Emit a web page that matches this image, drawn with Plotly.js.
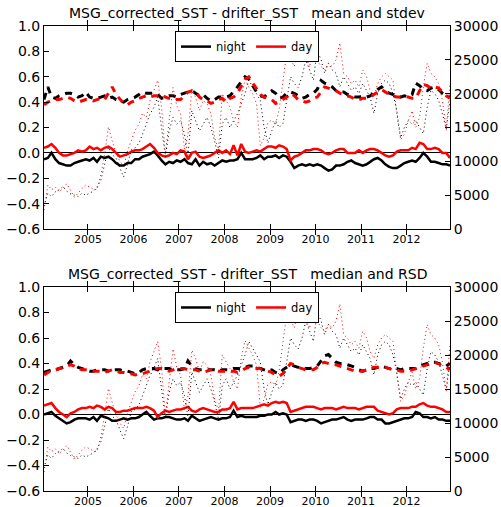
<!DOCTYPE html>
<html>
<head>
<meta charset="utf-8">
<script src="https://cdn.plot.ly/plotly-3.0.1.min.js"></script>
<style>html,body{margin:0;padding:0;background:#fff;}#chart{width:501px;height:507px;}</style>
</head>
<body>
<div id="chart"></div>
<script>
// ---- data (monthly, Jan 2004 .. Dec 2012) ----
var startYear = 2004;
var nMonths = 108;
var yearTicks = ['2005','2006','2007','2008','2009','2010','2011','2012'];

// top panel: mean and stdev
var nightMean = [
 -0.05,-0.04,0.0,-0.05,-0.08,-0.09,-0.10,-0.10,-0.08,-0.07,-0.06,-0.05,
 -0.06,-0.04,-0.07,-0.03,-0.04,-0.03,-0.05,-0.08,-0.10,-0.10,-0.08,-0.08,
 -0.05,-0.05,-0.03,-0.02,-0.01,0.01,-0.02,-0.06,-0.09,-0.07,-0.08,-0.06,
 -0.07,-0.05,-0.08,-0.09,-0.05,-0.10,-0.07,-0.09,-0.08,-0.10,-0.08,-0.06,
 -0.07,-0.06,-0.06,-0.05,0.0,-0.05,-0.05,-0.05,-0.04,-0.02,-0.05,-0.03,
 -0.03,-0.02,-0.04,-0.02,-0.03,-0.07,-0.12,-0.10,-0.09,-0.10,-0.09,-0.10,
 -0.09,-0.10,-0.12,-0.14,-0.13,-0.10,-0.10,-0.09,-0.07,-0.06,-0.08,-0.09,
 -0.10,-0.09,-0.07,-0.05,-0.04,-0.06,-0.09,-0.11,-0.12,-0.12,-0.10,-0.08,
 -0.07,-0.06,-0.07,-0.04,0.0,-0.03,-0.07,-0.07,-0.08,-0.09,-0.09,-0.10];
var dayMean = [
 0.04,0.05,0.07,0.04,0.0,-0.02,-0.02,-0.01,0.0,0.02,0.01,0.02,
 0.05,0.03,0.04,0.02,0.04,0.05,0.03,0.0,-0.03,-0.02,-0.01,0.01,
 0.02,0.02,0.03,0.05,0.07,0.04,0.0,-0.02,-0.03,-0.02,0.0,-0.01,
 0.02,0.01,-0.05,0.0,0.01,-0.03,-0.04,-0.03,-0.02,0.0,0.02,0.0,
 0.02,-0.01,0.06,-0.02,0.07,0.01,0.0,0.01,0.02,0.01,0.03,0.05,
 0.05,0.04,0.06,0.05,0.03,-0.06,-0.03,-0.02,0.0,0.02,0.02,0.03,
 0.03,0.02,0.0,-0.01,0.0,0.02,0.03,0.03,0.0,0.0,0.0,0.02,
 0.0,0.02,0.03,0.03,0.02,0.0,-0.02,-0.03,-0.02,0.01,0.02,0.02,
 0.02,0.04,0.03,0.08,0.07,0.03,0.03,0.04,0.03,0.0,0.0,-0.04];
var nightStd = [
 0.42,0.52,0.44,0.43,0.45,0.46,0.47,0.47,0.46,0.44,0.45,0.48,
 0.44,0.43,0.43,0.44,0.45,0.43,0.44,0.42,0.41,0.40,0.42,0.43,
 0.44,0.46,0.48,0.47,0.47,0.47,0.46,0.43,0.44,0.45,0.45,0.44,
 0.46,0.47,0.48,0.49,0.47,0.45,0.46,0.43,0.41,0.42,0.44,0.44,
 0.44,0.45,0.48,0.52,0.56,0.60,0.58,0.53,0.48,0.45,0.44,0.47,
 0.49,0.47,0.43,0.44,0.47,0.48,0.47,0.45,0.43,0.44,0.46,0.47,
 0.50,0.57,0.55,0.54,0.52,0.49,0.48,0.48,0.46,0.45,0.44,0.44,
 0.45,0.44,0.45,0.47,0.50,0.52,0.49,0.47,0.46,0.45,0.44,0.45,
 0.44,0.46,0.55,0.53,0.50,0.49,0.51,0.52,0.50,0.47,0.45,0.44];
var dayStd = [
 0.38,0.40,0.41,0.42,0.42,0.43,0.44,0.43,0.41,0.40,0.41,0.42,
 0.42,0.41,0.42,0.43,0.42,0.47,0.52,0.46,0.42,0.39,0.38,0.40,
 0.41,0.43,0.44,0.45,0.44,0.45,0.45,0.46,0.44,0.43,0.42,0.42,
 0.42,0.45,0.48,0.49,0.48,0.44,0.42,0.41,0.39,0.40,0.42,0.43,
 0.40,0.43,0.44,0.47,0.53,0.58,0.60,0.55,0.50,0.46,0.44,0.43,
 0.42,0.39,0.40,0.42,0.44,0.47,0.45,0.42,0.41,0.40,0.41,0.43,
 0.44,0.48,0.52,0.51,0.50,0.49,0.47,0.46,0.45,0.44,0.42,0.42,
 0.43,0.43,0.44,0.46,0.48,0.50,0.48,0.46,0.45,0.44,0.44,0.44,
 0.44,0.43,0.43,0.49,0.54,0.53,0.51,0.52,0.51,0.48,0.45,0.43];

// bottom panel: median and RSD
var nightMedian = [
 0.0,0.01,0.02,-0.01,-0.03,-0.05,-0.07,-0.06,-0.04,-0.03,-0.03,-0.03,
 -0.04,-0.02,-0.05,-0.01,-0.02,-0.03,-0.05,-0.05,-0.04,-0.03,-0.04,-0.03,
 -0.03,-0.02,0.0,0.02,-0.01,-0.04,-0.03,-0.03,-0.02,-0.02,-0.03,-0.04,
 -0.04,-0.03,-0.05,-0.01,-0.03,-0.05,-0.04,-0.03,-0.02,-0.03,-0.04,-0.03,
 -0.03,-0.02,0.03,-0.02,-0.01,-0.02,-0.02,-0.02,-0.02,-0.01,-0.01,0.0,
 0.0,0.02,0.0,0.01,0.0,-0.06,-0.05,-0.04,-0.04,-0.05,-0.04,-0.04,
 -0.05,-0.07,-0.06,-0.05,-0.04,-0.04,-0.03,-0.02,-0.04,-0.05,-0.04,-0.04,
 -0.04,-0.03,-0.02,-0.02,-0.04,-0.04,-0.07,-0.07,-0.06,-0.05,-0.04,-0.03,
 -0.03,-0.02,0.02,0.01,-0.02,-0.02,-0.03,-0.02,-0.04,-0.04,-0.05,-0.05];
var dayMedian = [
 0.07,0.08,0.09,0.05,0.02,0.0,-0.02,0.01,0.02,0.04,0.05,0.05,
 0.06,0.05,0.07,0.06,0.04,0.06,0.05,0.02,0.02,0.03,0.03,0.04,
 0.05,0.05,0.05,0.06,0.05,0.03,-0.02,0.01,0.03,0.02,0.03,0.04,
 0.04,0.05,0.06,0.03,0.02,0.04,0.05,0.04,0.03,0.02,0.02,0.04,
 0.04,0.05,0.10,0.04,0.05,0.05,0.05,0.05,0.06,0.07,0.08,0.07,
 0.09,0.10,0.09,0.10,0.09,0.02,0.03,0.04,0.05,0.06,0.06,0.06,
 0.05,0.04,0.05,0.05,0.05,0.04,0.05,0.06,0.05,0.05,0.05,0.04,
 0.05,0.06,0.06,0.06,0.03,0.02,0.01,0.0,0.01,0.04,0.05,0.05,
 0.05,0.06,0.06,0.08,0.09,0.07,0.06,0.06,0.05,0.04,0.02,0.02];
var nightRSD = [
 0.33,0.34,0.35,0.35,0.36,0.37,0.38,0.42,0.39,0.37,0.36,0.35,
 0.34,0.34,0.35,0.35,0.35,0.34,0.35,0.35,0.35,0.34,0.34,0.33,
 0.32,0.33,0.35,0.36,0.36,0.36,0.35,0.36,0.36,0.36,0.35,0.35,
 0.35,0.36,0.42,0.38,0.36,0.35,0.35,0.35,0.35,0.35,0.34,0.35,
 0.35,0.35,0.36,0.36,0.36,0.37,0.38,0.38,0.37,0.36,0.35,0.34,
 0.35,0.33,0.32,0.35,0.37,0.39,0.38,0.37,0.36,0.36,0.36,0.37,
 0.38,0.42,0.46,0.47,0.44,0.41,0.40,0.40,0.39,0.38,0.37,0.35,
 0.34,0.35,0.36,0.36,0.37,0.38,0.37,0.36,0.36,0.36,0.35,0.36,
 0.36,0.36,0.36,0.38,0.39,0.40,0.41,0.41,0.40,0.39,0.38,0.40];
var dayRSD = [
 0.31,0.33,0.34,0.35,0.36,0.37,0.38,0.39,0.38,0.36,0.35,0.35,
 0.34,0.34,0.34,0.34,0.33,0.34,0.35,0.34,0.33,0.33,0.32,0.32,
 0.31,0.32,0.32,0.33,0.34,0.35,0.36,0.36,0.35,0.34,0.35,0.36,
 0.36,0.36,0.35,0.35,0.35,0.34,0.33,0.34,0.35,0.35,0.34,0.34,
 0.34,0.34,0.34,0.33,0.34,0.36,0.37,0.36,0.36,0.36,0.35,0.34,
 0.33,0.31,0.30,0.32,0.36,0.40,0.39,0.37,0.36,0.35,0.35,0.35,
 0.37,0.40,0.41,0.40,0.39,0.39,0.38,0.37,0.36,0.35,0.34,0.34,
 0.34,0.35,0.36,0.37,0.37,0.37,0.37,0.36,0.35,0.35,0.34,0.34,
 0.34,0.35,0.36,0.37,0.38,0.39,0.40,0.41,0.40,0.38,0.37,0.35];

// matchup counts (right axis), same in both panels
var nightCount = [
 3400,5300,4800,5500,5800,6300,5600,5200,5000,4800,5300,5000,
 5300,5600,6200,7200,9500,12100,11000,10500,9000,7700,9500,11700,
 12000,12700,14000,15700,17000,18000,19500,15000,10700,14500,16500,15500,
 16000,14000,10900,17500,16000,14500,15500,16500,15000,13000,10500,15500,
 16500,15000,16000,17000,18500,20000,22000,21000,20000,19000,15000,12700,
 14500,16000,15000,15600,19000,22500,21500,20900,22500,25000,23500,22000,
 26400,25000,23000,24500,23500,23000,21000,22500,21500,20500,21000,20000,
 21500,20500,19500,17100,20000,21500,22000,21500,20000,17500,13500,15000,
 16000,15500,16000,15000,14100,18000,20500,20000,19000,17000,14800,19000];
var dayCount = [
 2800,6500,5800,6200,5500,6000,6700,5600,4700,5300,6000,6500,
 6200,5900,5800,8000,11000,15100,13000,11200,10000,9200,11500,13200,
 14600,15500,17100,16500,19000,20500,22000,18000,11000,16000,20900,18200,
 17000,11800,14000,20700,19500,17500,19000,18500,17000,13500,11800,20000,
 19000,18000,16000,15000,19500,22100,21000,20000,18500,12300,13500,15700,
 16100,15500,17600,22000,26000,25100,24000,26500,28400,25500,23900,27500,
 25000,24000,23500,24500,24000,25000,27500,23000,22500,21500,22000,21000,
 23500,22500,20500,19500,21500,22500,23000,22500,22000,17100,13200,14000,
 16000,17500,15000,16500,21000,24500,23000,22500,21500,19000,14600,21600];

// ---- build dates ----
var dates = [];
for (var i = 0; i < nMonths; i++) {
  var y = startYear + Math.floor(i / 12), m = (i % 12) + 1;
  dates.push(y + '-' + (m < 10 ? '0' + m : m) + '-15');
}
var tickVals = yearTicks.map(function (t) { return t + '-01-01'; });

var BLACK = '#000000', RED = '#ff0000';
function tr(y, xa, ya, color, dash, width, name, legend, show) {
  return {x: dates, y: y, xaxis: xa, yaxis: ya, type: 'scatter', mode: 'lines',
    line: {color: color, dash: dash, width: width}, name: name,
    showlegend: show, legend: legend, hoverinfo: 'skip'};
}
var DOT = '1px,3px';
var data = [
  tr(nightStd, 'x', 'y', BLACK, '7px,6px', 3, 'night std', 'legend', false),
  tr(dayStd, 'x', 'y', RED, '7px,6px', 3, 'day std', 'legend', false),
  tr(nightMean, 'x', 'y', BLACK, 'solid', 2.5, 'night', 'legend', true),
  tr(dayMean, 'x', 'y', RED, 'solid', 2.5, 'day', 'legend', true),
  tr(nightCount, 'x', 'y2', BLACK, DOT, 1, 'night n', 'legend', false),
  tr(dayCount, 'x', 'y2', RED, DOT, 1, 'day n', 'legend', false),
  tr(nightRSD, 'x2', 'y3', BLACK, '7px,6px', 3, 'night RSD', 'legend2', false),
  tr(dayRSD, 'x2', 'y3', RED, '7px,6px', 3, 'day RSD', 'legend2', false),
  tr(nightMedian, 'x2', 'y3', BLACK, 'solid', 2.5, 'night', 'legend2', true),
  tr(dayMedian, 'x2', 'y3', RED, 'solid', 2.5, 'day', 'legend2', true),
  tr(nightCount, 'x2', 'y4', BLACK, DOT, 1, 'night n', 'legend2', false),
  tr(dayCount, 'x2', 'y4', RED, DOT, 1, 'day n', 'legend2', false)
];

var FONT = 'DejaVu Sans, sans-serif';
function xax(anchor) {
  return {anchor: anchor, domain: [0, 1], type: 'date',
    range: [dates[0], dates[nMonths - 1]],
    tickvals: tickVals, ticktext: yearTicks, ticks: 'inside', ticklen: 5,
    tickcolor: '#000', showline: true, linecolor: '#000', linewidth: 1,
    mirror: 'allticks', showgrid: false, zeroline: false,
    tickfont: {family: FONT, size: 11, color: '#000'}};
}
function yleft(domain, anchor) {
  return {domain: domain, anchor: anchor, range: [-0.6, 1.0], tickmode: 'linear',
    tick0: -0.6, dtick: 0.2, tickformat: '.1f', ticks: 'inside', ticklen: 5,
    tickcolor: '#000', showline: true, linecolor: '#000', linewidth: 1,
    mirror: false, showgrid: false, zeroline: true, zerolinecolor: '#000',
    zerolinewidth: 1, tickfont: {family: FONT, size: 14, color: '#000'}};
}
function yright(over, anchor) {
  return {overlaying: over, anchor: anchor, side: 'right', range: [0, 30000],
    tickmode: 'linear', tick0: 0, dtick: 5000, tickformat: 'd', ticks: 'inside', ticklen: 5,
    tickcolor: '#000', showline: true, linecolor: '#000', linewidth: 1,
    showgrid: false, zeroline: false,
    tickfont: {family: FONT, size: 14, color: '#000'}};
}
function leg(ytop) {
  return {orientation: 'h', x: 0.5, xanchor: 'center', y: ytop, yanchor: 'top',
    bgcolor: '#fff', bordercolor: '#000', borderwidth: 1, itemwidth: 30,
    font: {family: FONT, size: 11.5, color: '#000'}};
}
var NB = '\u00a0';
var layout = {
  width: 501, height: 507,
  margin: {l: 44, r: 51, t: 26, b: 16, pad: 0},
  paper_bgcolor: '#fff', plot_bgcolor: '#fff',
  font: {family: FONT, color: '#000'},
  xaxis: xax('y'),
  yaxis: yleft([0.5634, 1], 'x'),
  yaxis2: yright('y', 'x'),
  xaxis2: xax('y3'),
  yaxis3: yleft([0, 0.4387], 'x2'),
  yaxis4: yright('y3', 'x2'),
  legend: leg(0.989),
  legend2: leg(0.428),
  annotations: [
    {text: 'MSG_corrected_SST - drifter_SST' + NB + NB + NB + 'mean and stdev',
     xref: 'paper', yref: 'paper', x: 0.5, y: 1, yanchor: 'bottom', yshift: 3, showarrow: false,
     font: {family: FONT, size: 14, color: '#000'}},
    {text: 'MSG_corrected_SST - drifter_SST' + NB + NB + NB + 'median and RSD',
     xref: 'paper', yref: 'paper', x: 0.5, y: 0.4387, yanchor: 'bottom', yshift: 3, showarrow: false,
     font: {family: FONT, size: 14, color: '#000'}}
  ]
};
Plotly.newPlot('chart', data, layout, {staticPlot: true, displayModeBar: false});
</script>
</body>
</html>
